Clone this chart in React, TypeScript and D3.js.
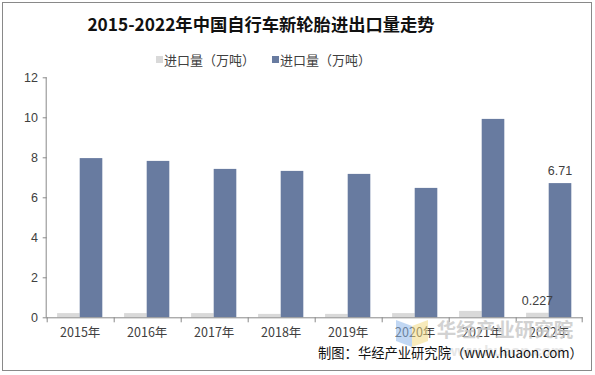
import React from "react";
import * as d3 from "d3";

const years = ["2015年", "2016年", "2017年", "2018年", "2019年", "2020年", "2021年", "2022年"];
const seriesNames = ["进口量（万吨）", "进口量（万吨）"];
const lightValues = [0.21, 0.21, 0.21, 0.17, 0.17, 0.21, 0.32, 0.227];
const darkValues = [7.96, 7.82, 7.42, 7.32, 7.17, 6.47, 9.92, 6.71];
const yTicks = [0, 2, 4, 6, 8, 10, 12];
const colors = ["#d9d9d9", "#687ba0"];

const W = 595;
const H = 375;
const left = 46.7;
const right = 582.7;
const top = 77.3;
const bottom = 317.3;
const font = "'Liberation Sans', Arial, sans-serif";
const cjk = "'Noto Sans CJK SC', 'Liberation Sans', sans-serif";

export default function App() {
  const x0 = d3.scaleBand<string>().domain(years).range([left, right]);
  const bw = x0.bandwidth();
  const x1 = d3.scaleBand<number>().domain([0, 1]).range([bw * 0.155, bw * 0.83]);
  const y = d3.scaleLinear().domain([0, 12]).range([bottom, top]);
  const series = [lightValues, darkValues];

  return (
    <svg width={W} height={H} style={{ position: "absolute", left: 0, top: 0 }}>
      <rect x={0} y={0} width={W} height={H} fill="#fff" />
      <rect x={2.5} y={2.5} width={589} height={368} fill="none" stroke="#898989" strokeWidth={1} />
      <text x={261} y={31} textAnchor="middle" fontFamily={cjk} fontWeight="bold" fontSize={17.3} fill="#111">
        2015-2022年中国自行车新轮胎进出口量走势
      </text>
      {/* legend */}
      {seriesNames.map((n, i) => {
        const lx = i === 0 ? 156 : 272;
        return (
          <g key={i}>
            <rect x={lx} y={56} width={7} height={7} fill={colors[i]} />
            <text x={lx + 8} y={64.5} fontFamily={cjk} fontSize={13} fill="#404040">{n}</text>
          </g>
        );
      })}
      {/* y axis */}
      <line x1={left - 0.5} x2={left - 0.5} y1={top} y2={bottom} stroke="#898989" />
      {yTicks.map((t) => (
        <g key={t}>
          <line x1={left - 4} x2={left} y1={y(t) + 0.5} y2={y(t) + 0.5} stroke="#898989" />
          <text x={38} y={y(t) + 4.5} textAnchor="end" fontFamily={font} fontSize={12.5} fill="#404040">{t}</text>
        </g>
      ))}
      {/* bars */}
      {series.map((vals, si) =>
        vals.map((v, i) => (
          <rect
            key={si + "-" + i}
            x={(x0(years[i]) as number) + (x1(si) as number)}
            y={y(v)}
            width={x1.bandwidth()}
            height={bottom - y(v)}
            fill={colors[si]}
          />
        ))
      )}
      {/* x axis */}
      <line x1={left - 0.5} x2={right} y1={bottom + 0.5} y2={bottom + 0.5} stroke="#898989" />
      {years.map((yr, i) => (
        <line key={"t" + i} x1={(x0(yr) as number) + 0.5} x2={(x0(yr) as number) + 0.5} y1={bottom} y2={bottom + 5} stroke="#898989" />
      ))}
      <line x1={right - 0.5} x2={right - 0.5} y1={bottom} y2={bottom + 5} stroke="#898989" />
      {years.map((yr) => (
        <text key={yr} x={(x0(yr) as number) + bw / 2} y={337} textAnchor="middle" fontFamily={cjk} fontSize={12.5} fill="#404040">{yr}</text>
      ))}
      {/* data labels */}
      <text x={(x0(years[7]) as number) + (x1(1) as number) + x1.bandwidth() / 2} y={y(darkValues[7]) - 8} textAnchor="middle" fontFamily={font} fontSize={12.5} fill="#404040">6.71</text>
      <text x={(x0(years[7]) as number) + (x1(0) as number) + x1.bandwidth() / 2} y={y(lightValues[7]) - 8} textAnchor="middle" fontFamily={font} fontSize={12.5} fill="#404040">0.227</text>
      {/* watermark */}
      <g opacity={0.55}>
        <polygon points="396,320 412,326 412,347 396,341" fill="#8fb8ea" />
        <polygon points="412,326 428,320 428,341 412,347" fill="#f3dc84" />
      </g>
      <text x={505} y={337} textAnchor="middle" fontFamily={cjk} fontWeight="bold" fontSize={19.5} fill="#c8c8c8" opacity={0.8}>华经产业研究院</text>
      <text x={505} y={356} textAnchor="middle" fontFamily={font} fontWeight="bold" fontSize={15} fill="#e2e2e2" opacity={0.8}>www.huaon.com</text>
      {/* source */}
      <text x={318} y={358} fontFamily={cjk} fontSize={13.3} fill="#111">制图：华经产业研究院（www.huaon.com）</text>
    </svg>
  );
}
